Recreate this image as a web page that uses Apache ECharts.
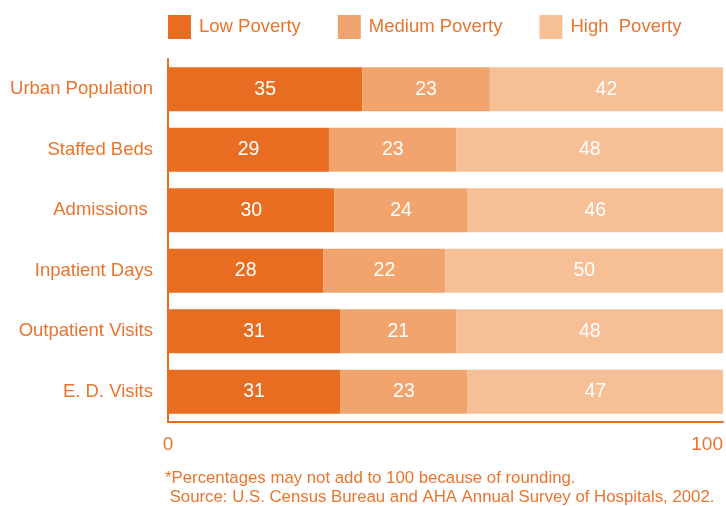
<!DOCTYPE html>
<html>
<head>
<meta charset="utf-8">
<style>
  html, body { margin: 0; padding: 0; background: #ffffff; }
  #chart { width: 726px; height: 506px; }
</style>
<script src="https://cdn.jsdelivr.net/npm/echarts@6/dist/echarts.min.js"></script>
</head>
<body>
<div id="chart"></div>
<script>
// Hospital measures split by community poverty level (percent)
const categories = ['Urban Population', 'Staffed Beds', 'Admissions ', 'Inpatient Days', 'Outpatient Visits', 'E. D. Visits'];
const lowPoverty = [35, 29, 30, 28, 31, 31];
const mediumPoverty = [23, 23, 24, 22, 21, 23];
const highPoverty = [42, 48, 46, 50, 48, 47];
const seriesNames = ['Low Poverty', 'Medium Poverty', 'High  Poverty'];
const xTicks = [0, 100];
const footnotes = [
  '*Percentages may not add to 100 because of rounding.',
  ' Source: U.S. Census Bureau and AHA Annual Survey of Hospitals, 2002.'
];

const textColor = '#EA742D';
const axisColor = '#E96D21';
const colors = ['#E96D21', '#F2A46F', '#F7BF96'];
const font = 'Liberation Sans, Arial, Helvetica, sans-serif';

const chart = echarts.init(document.getElementById('chart'), null, { renderer: 'canvas' });

function barSeries(name, data, color) {
  return {
    name: name,
    type: 'bar',
    stack: 'total',
    barWidth: 44,
    data: data,
    itemStyle: { color: color },
    label: {
      show: true,
      position: 'inside',
      color: '#ffffff',
      fontSize: 19.5,
      fontFamily: font
    },
    emphasis: { disabled: true }
  };
}

chart.setOption({
  animation: false,
  color: colors,
  textStyle: { fontFamily: font },
  legend: {
    left: 163,
    top: 10,
    itemWidth: 23,
    itemHeight: 24,
    itemGap: 37,
    icon: 'rect',
    selectedMode: false,
    textStyle: { color: textColor, fontSize: 18.5, fontFamily: font, padding: [0, 0, 0, 3] },
    data: seriesNames
  },
  grid: { left: 168, right: 2, top: 59, bottom: 84, containLabel: false },
  xAxis: {
    type: 'value',
    min: xTicks[0],
    max: xTicks[xTicks.length - 1],
    interval: 100,
    axisLine: { show: true, lineStyle: { color: axisColor, width: 2 } },
    axisTick: { show: false },
    splitLine: { show: false },
    axisLabel: {
      color: textColor,
      fontSize: 19,
      margin: 13,
      fontFamily: font,
      alignMaxLabel: 'right'
    }
  },
  yAxis: {
    type: 'category',
    inverse: true,
    data: categories,
    axisLine: { show: true, lineStyle: { color: axisColor, width: 2 } },
    axisTick: { show: false },
    axisLabel: { color: textColor, fontSize: 18.5, margin: 15, fontFamily: font }
  },
  series: [
    barSeries(seriesNames[0], lowPoverty, colors[0]),
    barSeries(seriesNames[1], mediumPoverty, colors[1]),
    barSeries(seriesNames[2], highPoverty, colors[2])
  ],
  graphic: footnotes.map(function (line, i) {
    return {
      type: 'text',
      left: 165,
      top: 470 + i * 19,
      style: {
        text: line,
        fill: textColor,
        fontSize: 16.8,
        fontFamily: font
      }
    };
  })
});
</script>
</body>
</html>
